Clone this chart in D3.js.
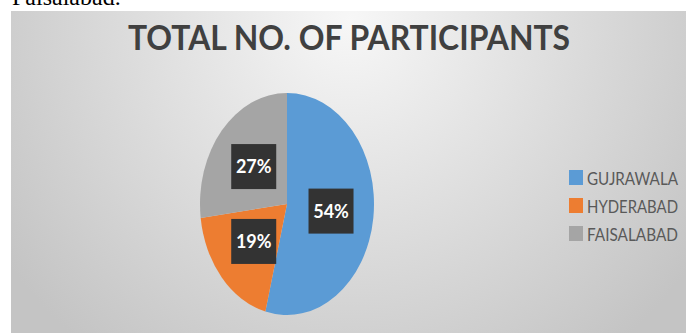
<!DOCTYPE html>
<html>
<head>
<meta charset="utf-8">
<script src="https://cdn.jsdelivr.net/npm/d3@7"></script>
<style>
  body { margin: 0; background: #fff; }
  svg { display: block; }
</style>
</head>
<body>
<div class="chart"></div>
<script>
// data
var cities = ["GUJRAWALA", "HYDERABAD", "FAISALABAD"];
var shares = [54, 19, 27];
var colours = ["#5B9BD5", "#ED7D31", "#A5A5A5"];

var svgWidth = 686;
var svgHeight = 333;

var svg = d3.select(".chart")
  .append("svg")
  .attr("width", svgWidth)
  .attr("height", svgHeight);

// cut-off caption line from the page above the chart
svg.append("text")
  .attr("x", 12)
  .attr("y", 5)
  .attr("font-family", "Liberation Serif, serif")
  .attr("font-size", 24)
  .attr("fill", "#000")
  .text("Faisalabad.");

// background gradient of the chart area
var defs = svg.append("defs");
var grad = defs.append("radialGradient")
  .attr("id", "bg")
  .attr("gradientUnits", "userSpaceOnUse")
  .attr("cx", 350).attr("cy", 20).attr("r", 420);
grad.append("stop").attr("offset", "0%").attr("stop-color", "#f7f7f7");
grad.append("stop").attr("offset", "100%").attr("stop-color", "#c4c4c4");

svg.append("rect")
  .attr("x", 11)
  .attr("y", 11)
  .attr("width", svgWidth - 11)
  .attr("height", svgHeight - 11)
  .attr("fill", "url(#bg)");

// title (Calibri-ish: squeeze Lato to the width seen)
svg.append("text")
  .attr("x", 128)
  .attr("y", 50)
  .attr("font-family", "Lato, sans-serif")
  .attr("font-weight", "bold")
  .attr("font-size", 34)
  .attr("textLength", 442)
  .attr("lengthAdjust", "spacingAndGlyphs")
  .attr("fill", "#404040")
  .text("TOTAL NO. OF PARTICIPANTS");

// pie, drawn as a circle then squashed into the ellipse of the picture
var cx = 287, cy = 204;
var rx = 87, ry = 111;

var pie = d3.pie().sort(null).value(d => d);
var arcs = pie(shares);
var arc = d3.arc().innerRadius(0).outerRadius(ry);

var pieGroup = svg.append("g")
  .attr("transform", `translate(${cx}, ${cy}) scale(${rx / ry}, 1)`);

pieGroup.selectAll("path")
  .data(arcs)
  .enter()
  .append("path")
  .attr("d", arc)
  .attr("fill", (d, i) => colours[i]);

// data labels in dark boxes
var labelArc = d3.arc().innerRadius(ry * 0.51).outerRadius(ry * 0.51);
var labels = svg.append("g")
  .attr("transform", `translate(${cx}, ${cy})`);

var lab = labels.selectAll("g")
  .data(arcs)
  .enter()
  .append("g")
  .attr("transform", function(d) {
    var c = labelArc.centroid(d);
    return `translate(${c[0] * rx / ry}, ${c[1]})`;
  });

lab.append("rect")
  .attr("x", -22.5)
  .attr("y", -22.5)
  .attr("width", 45)
  .attr("height", 45)
  .attr("fill", "#333333");

lab.append("text")
  .attr("text-anchor", "middle")
  .attr("dy", "0.36em")
  .attr("font-family", "Lato, sans-serif")
  .attr("font-weight", "bold")
  .attr("font-size", 18)
  .attr("fill", "#ffffff")
  .text(d => d.data + "%");

// legend
var legend = svg.append("g")
  .attr("transform", "translate(569, 170)");

var row = legend.selectAll("g")
  .data(cities)
  .enter()
  .append("g")
  .attr("transform", (d, i) => `translate(0, ${i * 28})`);

row.append("rect")
  .attr("width", 14)
  .attr("height", 15)
  .attr("fill", (d, i) => colours[i]);

row.append("text")
  .attr("x", 18)
  .attr("y", 14.5)
  .attr("font-family", "Liberation Sans Narrow, Lato, sans-serif")
  .attr("font-size", 18)
  .attr("textLength", 91)
  .attr("lengthAdjust", "spacingAndGlyphs")
  .attr("fill", "#595959")
  .text(d => d);
</script>
</body>
</html>
